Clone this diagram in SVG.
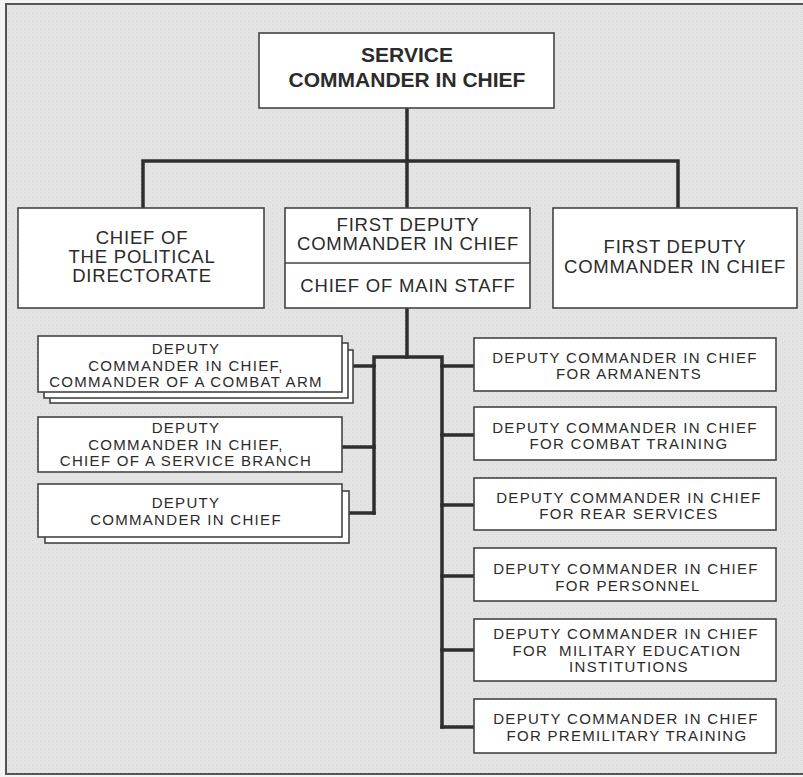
<svg xmlns="http://www.w3.org/2000/svg" width="803" height="777" viewBox="0 0 803 777">
<defs>
<pattern id="grain" width="4" height="4" patternUnits="userSpaceOnUse">
<rect width="4" height="4" fill="#e4e4e4"/>
<rect width="1" height="1" fill="#d6d6d6"/>
<rect x="2" y="2" width="1" height="1" fill="#dadada"/>
</pattern>
</defs>
<style>
.box{fill:#fff;stroke:#444;stroke-width:1.6}
.con{fill:none;stroke:#2e2e2e;stroke-width:3.5;stroke-linejoin:miter;stroke-linecap:square}
text{font-family:"Liberation Sans",Arial,Helvetica,sans-serif;fill:#2b2b2b;text-anchor:middle}
.tb{font-size:21px;font-weight:bold}
.tm{font-size:18.5px;letter-spacing:0.8px}
.ts{font-size:15px;letter-spacing:1.3px}
</style>
<rect x="0" y="0" width="803" height="777" fill="#f4f4f4"/>
<rect x="6" y="4" width="802" height="770" fill="url(#grain)" stroke="#555" stroke-width="2"/>

<g id="connectors">
<path class="con" d="M407,108 V161"/>
<path class="con" d="M143,207 V161 H678 V207"/>
<path class="con" d="M407,161 V207"/>
<path class="con" d="M407,308 V357"/>
<path class="con" d="M374,513 V357 H442 V727"/>
<path class="con" d="M442,366 H474 M442,435 H474 M442,505 H474 M442,576 H474 M442,650 H474 M442,727 H474"/>
<path class="con" d="M353,366 H374 M342,447 H374 M348,513 H374"/>
</g>

<g id="commander">
<rect class="box" x="259" y="33" width="295" height="75"/>
<text class="tb" x="407" y="62">SERVICE</text>
<text class="tb" x="407" y="87">COMMANDER IN CHIEF</text>
</g>

<g id="political">
<rect class="box" x="18" y="208" width="246" height="100"/>
<text class="tm" x="142" y="244">CHIEF OF</text>
<text class="tm" x="142" y="263">THE POLITICAL</text>
<text class="tm" x="142" y="282">DIRECTORATE</text>
</g>

<g id="first-deputy-main-staff">
<rect class="box" x="285" y="208" width="245" height="100"/>
<line x1="285" y1="263" x2="530" y2="263" stroke="#444" stroke-width="1.6"/>
<text class="tm" x="408" y="231">FIRST DEPUTY</text>
<text class="tm" x="408" y="250">COMMANDER IN CHIEF</text>
<text class="tm" x="408" y="292">CHIEF OF MAIN STAFF</text>
</g>

<g id="first-deputy">
<rect class="box" x="553" y="208" width="244" height="100"/>
<text class="tm" x="675" y="253">FIRST DEPUTY</text>
<text class="tm" x="675" y="273">COMMANDER IN CHIEF</text>
</g>

<g id="deputy-combat-arm">
<rect class="box" x="50" y="350" width="303" height="53"/>
<rect class="box" x="44" y="343" width="304" height="55"/>
<rect class="box" x="38" y="336" width="304" height="56"/>
<text class="ts" x="186" y="354">DEPUTY</text>
<text class="ts" x="186" y="371">COMMANDER IN CHIEF,</text>
<text class="ts" x="186" y="387">COMMANDER OF A COMBAT ARM</text>
</g>

<g id="deputy-service-branch">
<rect class="box" x="38" y="417" width="304" height="55"/>
<text class="ts" x="186" y="433">DEPUTY</text>
<text class="ts" x="186" y="450">COMMANDER IN CHIEF,</text>
<text class="ts" x="186" y="466">CHIEF OF A SERVICE BRANCH</text>
</g>

<g id="deputy">
<rect class="box" x="45" y="491" width="304" height="52"/>
<rect class="box" x="38" y="484" width="304" height="53"/>
<text class="ts" x="186" y="508">DEPUTY</text>
<text class="ts" x="186" y="525">COMMANDER IN CHIEF</text>
</g>

<g id="deputy-armaments">
<rect class="box" x="474" y="338" width="302" height="53"/>
<text class="ts" x="625" y="363">DEPUTY COMMANDER IN CHIEF</text>
<text class="ts" x="629" y="379">FOR ARMANENTS</text>
</g>

<g id="deputy-combat-training">
<rect class="box" x="474" y="407" width="302" height="53"/>
<text class="ts" x="625" y="433">DEPUTY COMMANDER IN CHIEF</text>
<text class="ts" x="629" y="449">FOR COMBAT TRAINING</text>
</g>

<g id="deputy-rear-services">
<rect class="box" x="474" y="478" width="302" height="52"/>
<text class="ts" x="629" y="503">DEPUTY COMMANDER IN CHIEF</text>
<text class="ts" x="629" y="519">FOR REAR SERVICES</text>
</g>

<g id="deputy-personnel">
<rect class="box" x="474" y="548" width="302" height="53"/>
<text class="ts" x="626" y="574">DEPUTY COMMANDER IN CHIEF</text>
<text class="ts" x="628" y="591">FOR PERSONNEL</text>
</g>

<g id="deputy-education">
<rect class="box" x="474" y="619" width="302" height="62"/>
<text class="ts" x="626" y="639">DEPUTY COMMANDER IN CHIEF</text>
<text class="ts" x="627" y="656" xml:space="preserve">FOR  MILITARY EDUCATION</text>
<text class="ts" x="629" y="672">INSTITUTIONS</text>
</g>

<g id="deputy-premilitary">
<rect class="box" x="474" y="699" width="302" height="54"/>
<text class="ts" x="626" y="724">DEPUTY COMMANDER IN CHIEF</text>
<text class="ts" x="627" y="741">FOR PREMILITARY TRAINING</text>
</g>
</svg>
